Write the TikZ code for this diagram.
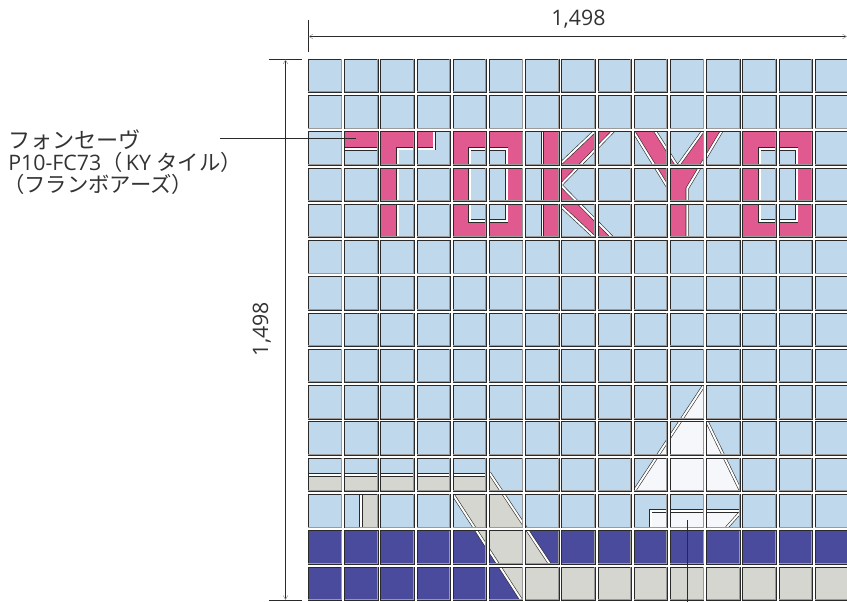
\documentclass[tikz,border=0pt]{standalone}
\usepackage{fontspec}
\setmainfont{Open Sans}
\newfontfamily\jpfont{Noto Sans CJK JP}
\usetikzlibrary{arrows.meta}
\definecolor{tileblue}{HTML}{C0D8EC}
\definecolor{tilepink}{HTML}{E05A90}
\definecolor{tiledark}{HTML}{4B4B9E}
\definecolor{tilegrey}{HTML}{D5D6D0}
\definecolor{tilewhite}{HTML}{F6F7FA}
\definecolor{edgedark}{HTML}{2A2A2A}
\definecolor{edgegrey}{HTML}{9A9A9A}
\definecolor{labelink}{HTML}{333333}
\tikzset{
  cut/.style={draw=edgedark,double=white,double distance=1.45pt,line width=0.45pt,line join=miter},
  gapline/.style={draw=white,line width=2.2pt},
  tileedge/.style={draw=edgedark,line width=0.6pt},
  tileshade/.style={draw=edgegrey,line width=0.45pt},
  dimline/.style={draw=edgedark,line width=0.65pt},
  dimtip/.style={{Straight Barb[length=3pt,width=3.5pt,line width=0.4pt,color=edgegrey]}-{Straight Barb[length=3pt,width=3.5pt,line width=0.4pt,color=edgegrey]}},
  leader/.style={draw=edgedark,line width=0.6pt},
  dimtext/.style={font=\fontsize{16}{18}\selectfont,text=labelink,inner sep=0pt},
  calltext/.style={font=\fontsize{16}{18}\selectfont,text=labelink,inner sep=0pt,anchor=base west}
}
\begin{document}
\begin{tikzpicture}[x=0.75pt,y=-0.75pt]
\useasboundingbox (0,0) rectangle (847,602);
\clip (0,0) rectangle (847,602);
% base colours
\fill[tileblue] (308,59) rectangle (850,601);
\fill[tiledark] (308,529) rectangle (850,601);
% grey pier
\fill[tilegrey] (308,475) -- (490.9,475) -- (550,564.3) -- (550,565.5) -- (850,565.5) -- (850,601) -- (521.7,600.7) -- (453.3,495) -- (453.3,493) -- (308,493) -- cycle;
\fill[tilegrey] (361,494) rectangle (379,528);
% sail and hull
\fill[tilewhite] (703.5,386) -- (703.5,421) -- (707,421) -- (740.7,491) -- (634.3,491) -- cycle;
\fill[tilewhite] (650.7,511) -- (740.7,511) -- (726.5,527.8) -- (650.7,527.8) -- cycle;
% T
\fill[tilepink] (344,132) -- (434,132) -- (434,148) -- (397.5,148) -- (397.5,238) -- (380,238) -- (380,148) -- (344,148) -- cycle;
% O O
\foreach \dx in {0,290}{
  \fill[tilepink,even odd rule,xshift=\dx*0.75pt] (453,132) rectangle (523,238) (469.8,149) rectangle (506.7,221);
}
% K
\fill[tilepink] (544,132) rectangle (560,238);
\fill[tilepink] (561,163.3) -- (595,131) -- (613.3,131) -- (560.7,185) -- cycle;
\fill[tilepink] (560.7,185) -- (613.3,238.3) -- (595,237.7) -- (561.7,206.7) -- cycle;
% Y
\fill[tilepink] (633.3,131) -- (655,131) -- (677.5,166.5) -- (703,131) -- (721.7,131) -- (687.3,188.3) -- (687.3,238) -- (670,238) -- (670,188.3) -- (668.5,188.3) -- cycle;
% cut lines
\draw[cut] (344,149) -- (379,149);
\draw[cut] (397.8,238) -- (397.8,148.8) -- (434.3,148.8) -- (434.3,131);
\foreach \dx in {0,290}{
  \draw[cut,xshift=\dx*0.75pt] (469.8,149) rectangle (506.7,221);
}
\draw[cut] (542.5,131) -- (542.5,239);
\draw[cut] (561,163.3) -- (595,131);
\draw[cut] (613.3,131) -- (560.7,185) -- (613.3,238.5);
\draw[cut] (561.7,206.7) -- (595,237.7);
\draw[cut] (633.3,131) -- (668.5,188.3);
\draw[cut] (655,131) -- (677.5,166.5) -- (703,131);
\draw[cut] (721.7,131) -- (687.3,188.3) -- (687.3,239);
\draw[cut] (703.5,386) -- (634.3,491);
\draw[cut] (707,421.7) -- (740.7,491);
\draw[cut] (650.7,529) -- (650.7,511) -- (741,511);
\draw[cut] (740.7,512) -- (726.5,527.8);
\draw[cut] (307,475) -- (489,475);
\draw[cut] (361,493) -- (361,529);
\draw[cut] (489.3,472.7) -- (550,564.3);
\draw[cut] (453.3,495) -- (521.7,600.7);
% gaps between tiles
\foreach \i in {-1,...,14}{
  \pgfmathsetmacro{\gx}{308.3+36.2*\i+34.8}
  \draw[gapline] (\gx,55) -- (\gx,602);
}
\foreach \j in {-1,...,14}{
  \pgfmathsetmacro{\gy}{59.3+36.26*\j+34.85}
  \draw[gapline] (304,\gy) -- (850,\gy);
}
% tile outlines
\foreach \i in {0,...,14}{
  \foreach \j in {0,...,14}{
    \pgfmathsetmacro{\xa}{308.3+36.2*\i}
    \pgfmathsetmacro{\ya}{59.3+36.26*\j}
    \pgfmathsetmacro{\xb}{\xa+33.4}
    \pgfmathsetmacro{\yb}{\ya+33.3}
    \pgfmathsetmacro{\xs}{\xb-0.9}
    \pgfmathsetmacro{\ys}{\yb-0.9}
    \draw[tileedge] (\xa,\ya) rectangle (\xb,\yb);
    \draw[tileshade] (\xs,\ya) -- (\xs,\ys) -- (\xa,\ys);
  }
}
% dimensions
\coordinate (htickA) at (308.5,20);
\coordinate (htickB) at (308.5,52);
\coordinate (hdimL) at (308.5,36.5);
\coordinate (hdimR) at (847,36.5);
\coordinate (vtickTL) at (269,59.5);
\coordinate (vtickTR) at (302,59.5);
\coordinate (vtickBL) at (269,600);
\coordinate (vtickBR) at (302,600);
\coordinate (vdimT) at (285.5,59.5);
\coordinate (vdimB) at (285.5,600);
\draw[dimline] (htickA) -- (htickB);
\draw[dimline,dimtip] (hdimL) -- (hdimR);
\draw[dimline] (vtickTL) -- (vtickTR);
\draw[dimline] (vtickBL) -- (vtickBR);
\draw[dimline,dimtip] (vdimT) -- (vdimB);
\node[dimtext,anchor=base] (hlabel) at (578.5,26) {1,498};
\node[dimtext,anchor=base,rotate=90] (vlabel) at (268,329) {1,498};
% leaders
\coordinate (leadA) at (220,138);
\coordinate (leadB) at (356,138);
\coordinate (leadC) at (687.3,520);
\coordinate (leadD) at (687.3,602);
\draw[leader] (leadA) -- (leadB);
\draw[leader] (leadC) -- (leadD);
% callout
\node[calltext,font=\fontsize{16.6}{18}\selectfont] (lineone) at (8,149) {\jpfont フォンセーヴ};
\node[calltext] (linetwo) at (8,170.5) {P10-FC73{\jpfont （}\hspace{2.5pt}KY {\jpfont タイル）}};
\node[calltext] (linethree) at (3,193) {\jpfont （フランボアーズ）};
\end{tikzpicture}
\end{document}
